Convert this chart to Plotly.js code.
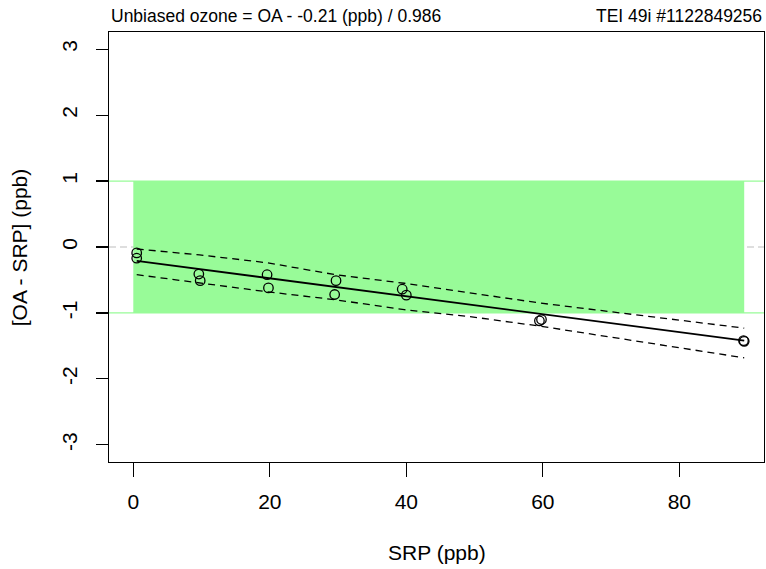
<!DOCTYPE html>
<html>
<head>
<meta charset="utf-8">
<script src="https://cdn.plot.ly/plotly-3.0.1.min.js"></script>
<style>html,body{margin:0;padding:0;background:#fff;}#chart{width:766px;height:569px;}</style>
</head>
<body>
<div id="chart"></div>
<script>
// Observations: SRP (ppb) and OA - SRP difference (ppb)
const srp  = [0.5, 0.5, 9.6, 9.8, 19.6, 19.8, 29.7, 29.5, 39.4, 40.0, 59.5, 59.8, 89.4, 89.5];
const diff = [-0.09, -0.17, -0.41, -0.51, -0.42, -0.62, -0.51, -0.72, -0.64, -0.73, -1.12, -1.10, -1.42, -1.43];

// Fitted line (at the ends of the data range)
const fitX = [0.5, 89.5];
const fitY = [-0.21, -1.42];

// Dashed band
const bandX     = [0.5, 9.7, 19.7, 29.6, 39.7, 48.9, 59.6, 89.5];
const bandUpper = [-0.03, -0.12, -0.24, -0.42, -0.55, -0.69, -0.85, -1.23];
const bandLower = [-0.42, -0.55, -0.68, -0.80, -0.95, -1.05, -1.20, -1.68];

// Acceptance limits (ppb)
const limits = [-1, 1];
const refLine = [0];

// Tick labels
const xTicks = [0, 20, 40, 60, 80];
const yTicks = [-3, -2, -1, 0, 1, 2, 3];

const titleLeft  = 'Unbiased ozone = OA - -0.21 (ppb) / 0.986';
const titleRight = 'TEI 49i #1122849256';
const xTitle = 'SRP (ppb)';
const yTitle = '[OA - SRP] (ppb)';

const FONT = 'Liberation Sans, Arial, Helvetica, sans-serif';

const traces = [
  {x: bandX, y: bandUpper, mode: 'lines', line: {color: '#000', width: 1.3, dash: '7px,5px'}, hoverinfo: 'skip'},
  {x: bandX, y: bandLower, mode: 'lines', line: {color: '#000', width: 1.3, dash: '7px,5px'}, hoverinfo: 'skip'},
  {x: fitX, y: fitY, mode: 'lines', line: {color: '#000', width: 1.8}, hoverinfo: 'skip'},
  {x: srp, y: diff, mode: 'markers', marker: {symbol: 'circle-open', size: 9.5, color: '#000', line: {width: 1.3, color: '#000'}}}
];

const xMax = Math.max(...srp);
const shapes = [
  {type: 'rect', xref: 'x', yref: 'y', x0: 0, x1: xMax, y0: limits[0], y1: limits[1],
   fillcolor: '#98FB98', line: {width: 0}, layer: 'below'},
  {type: 'line', xref: 'paper', yref: 'y', x0: 0, x1: 1, y0: limits[0], y1: limits[0],
   line: {color: '#98FB98', width: 1.3}, layer: 'below'},
  {type: 'line', xref: 'paper', yref: 'y', x0: 0, x1: 1, y0: limits[1], y1: limits[1],
   line: {color: '#98FB98', width: 1.3}, layer: 'below'},
  {type: 'line', xref: 'paper', yref: 'y', x0: 0, x1: 1, y0: refLine[0], y1: refLine[0],
   line: {color: '#D3D3D3', width: 1.5, dash: '7px,4px'}, layer: 'below'}
];

const layout = {
  width: 766, height: 569,
  margin: {l: 109, r: 2, t: 32, b: 107, pad: 0},
  paper_bgcolor: '#fff', plot_bgcolor: '#fff',
  showlegend: false,
  font: {family: FONT, color: '#000', size: 21},
  xaxis: {
    range: [-3.56, 92.4], tickvals: xTicks, ticktext: xTicks.map(String),
    ticks: 'outside', ticklen: 14, tickwidth: 1.2, tickcolor: '#000',
    showline: true, mirror: true, linecolor: '#000', linewidth: 1.3,
    showgrid: false, zeroline: false, ticklabelstandoff: 6,
    tickfont: {family: FONT, size: 21, color: '#000'}
  },
  yaxis: {
    range: [-3.26, 3.26], tickvals: yTicks, ticktext: yTicks.map(String),
    ticks: 'outside', ticklen: 12, tickwidth: 1.2, tickcolor: '#000',
    showline: true, mirror: true, linecolor: '#000', linewidth: 1.3,
    showgrid: false, zeroline: false, tickangle: -90, ticklabelstandoff: 10,
    tickfont: {family: FONT, size: 21, color: '#000'}
  },
  shapes: shapes,
  annotations: [
    {text: titleLeft, xref: 'paper', yref: 'paper', x: 0, y: 1.038, xanchor: 'left', yanchor: 'middle',
     showarrow: false, font: {family: FONT, size: 17.5, color: '#000'}},
    {text: titleRight, xref: 'paper', yref: 'paper', x: 1, y: 1.038, xanchor: 'right', yanchor: 'middle',
     showarrow: false, font: {family: FONT, size: 17.5, color: '#000'}},
    {text: xTitle, xref: 'paper', yref: 'paper', x: 0.5, y: -0.21, xanchor: 'center', yanchor: 'middle',
     showarrow: false, font: {family: FONT, size: 21, color: '#000'}},
    {text: yTitle, xref: 'paper', yref: 'paper', x: -0.137, y: 0.5, xanchor: 'center', yanchor: 'middle',
     textangle: -90, showarrow: false, font: {family: FONT, size: 21, color: '#000'}}
  ]
};

Plotly.newPlot('chart', traces, layout, {staticPlot: true, displayModeBar: false});
</script>
</body>
</html>
